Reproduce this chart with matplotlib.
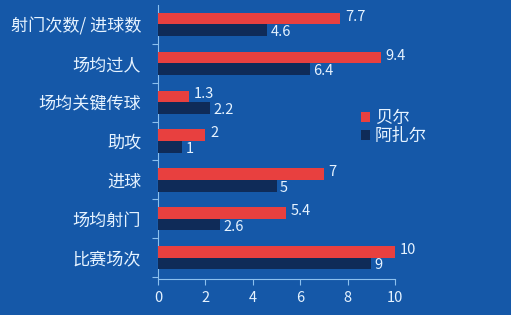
import matplotlib.pyplot as plt
import numpy as np

plt.rcParams['font.family'] = ['Noto Sans CJK SC', 'DejaVu Sans']

categories = ['比赛场次', '场均射门', '进球', '助攻', '场均关键传球', '场均过人', '射门次数/ 进球数']
bale = [10, 5.4, 7, 2, 1.3, 9.4, 7.7]
hazard = [9, 2.6, 5, 1, 2.2, 6.4, 4.6]
bale_labels = ['10', '5.4', '7', '2', '1.3', '9.4', '7.7']
hazard_labels = ['9', '2.6', '5', '1', '2.2', '6.4', '4.6']

BG = '#1558a8'
RED = '#e8403f'
NAVY = '#0f2b58'
TXT = '#e6f3ff'
SPINE = '#8cc0ee'

fig = plt.figure(figsize=(5.11, 3.15), dpi=100, facecolor=BG)
ax = fig.add_axes([158 / 511, 36 / 315, 237 / 511, 274 / 315])
ax.set_facecolor(BG)

y = np.arange(len(categories))
h = 0.3
ax.barh(y + h / 2, bale, height=h, color=RED, label='贝尔', zorder=3)
ax.barh(y - h / 2, hazard, height=h, color=NAVY, label='阿扎尔', zorder=3)

for yi, v, s in zip(y, bale, bale_labels):
    ax.text(v + 0.2, yi + h / 2 + 0.05, s, color=TXT, fontsize=10.5, va='center', ha='left')
for yi, v, s in zip(y, hazard, hazard_labels):
    ax.text(v + 0.15, yi - h / 2 - 0.05, s, color=TXT, fontsize=10.5, va='center', ha='left')

ax.set_xlim(0, 10)
ax.set_ylim(-0.55, 6.5)
ax.set_xticks([0, 2, 4, 6, 8, 10])
ax.set_yticks(y)
ax.set_yticklabels(categories)
ax.set_yticks(np.arange(-0.5, 6.5, 1), minor=True)
ax.tick_params(axis='y', which='major', length=0, pad=12, labelsize=12.3, labelcolor=TXT)
ax.tick_params(axis='y', which='minor', length=4, color=SPINE, width=0.8)
ax.tick_params(axis='x', length=4, color=SPINE, width=0.8, labelsize=10.5, labelcolor=TXT, pad=5)

for side in ['top', 'right']:
    ax.spines[side].set_visible(False)
for side in ['left', 'bottom']:
    ax.spines[side].set_color(SPINE)
    ax.spines[side].set_linewidth(0.8)

leg = fig.legend(loc='upper left', bbox_to_anchor=(354 / 511, 1 - 102 / 315), frameon=False,
                 fontsize=12.5, handlelength=0.5, handleheight=0.5, handletextpad=0.3,
                 labelspacing=0.0, borderaxespad=0)
for t in leg.get_texts():
    t.set_color(TXT)

fig.savefig('out.png', dpi=100, facecolor=BG)
